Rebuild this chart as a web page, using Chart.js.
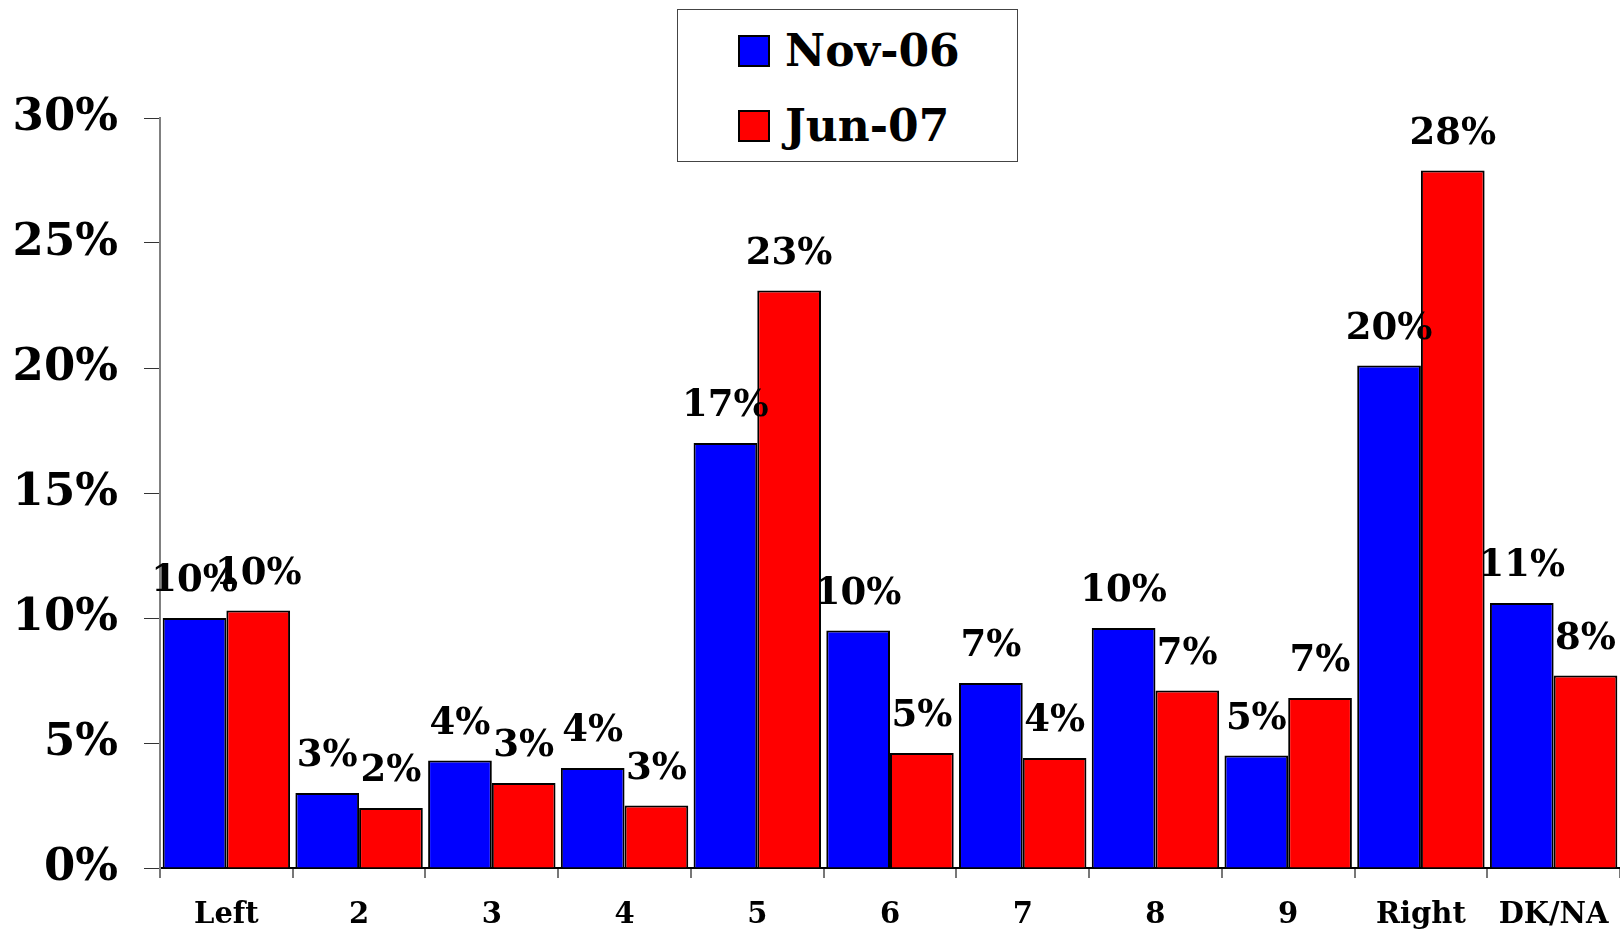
<!DOCTYPE html>
<html>
<head>
<meta charset="utf-8">
<script src="https://cdn.jsdelivr.net/npm/chart.js@4.4.1/dist/chart.umd.min.js"></script>
<style>
  html, body { margin: 0; padding: 0; background: #fff; overflow: hidden; }
  #wrap { position: relative; width: 1620px; height: 933px; }
  #legend { position: absolute; left: 677px; top: 9px; width: 339px; height: 151px;
    border: 1px solid #444; background: #fff; font-family: "DejaVu Serif", serif; font-weight: bold;
    font-size: 44px; color: #000; }
  .item { position: absolute; left: 60px; height: 44px; line-height: 44px; white-space: nowrap; }
  .sw { position: absolute; left: 0; top: 6px; width: 28px; height: 28px; border: 2px solid #000; }
  .lbl { position: absolute; left: 47px; top: 0px; }
</style>
</head>
<body>
<div id="wrap">
  <canvas id="c" width="1620" height="933"></canvas>
  <div id="legend"></div>
</div>
<script>
const categories = ["Left", "2", "3", "4", "5", "6", "7", "8", "9", "Right", "DK/NA"];
const seriesNames = ["Nov-06", "Jun-07"];
const nov06 = [10.0, 3.0, 4.3, 4.0, 17.0, 9.5, 7.4, 9.6, 4.5, 20.1, 10.6];
const jun07 = [10.3, 2.4, 3.4, 2.5, 23.1, 4.6, 4.4, 7.1, 6.8, 27.9, 7.7];
const seriesColors = ["#0000FF", "#FF0000"];
const yTicks = [0, 5, 10, 15, 20, 25, 30];

// HTML legend
const legendEl = document.getElementById('legend');
seriesNames.forEach((n, i) => {
  const it = document.createElement('div');
  it.className = 'item';
  it.style.top = (i === 0 ? 19 : 94) + 'px';
  it.innerHTML = '<div class="sw" style="background:' + seriesColors[i] + '"></div><div class="lbl">' + n + '</div>';
  legendEl.appendChild(it);
});

const labelPlugin = {
  id: 'barLabels',
  afterDatasetsDraw(chart) {
    const ctx = chart.ctx;
    ctx.save();
    ctx.font = 'bold 37px "DejaVu Serif"';
    ctx.fillStyle = '#000';
    ctx.textAlign = 'center';
    ctx.textBaseline = 'alphabetic';
    chart.data.datasets.forEach((ds, di) => {
      const meta = chart.getDatasetMeta(di);
      meta.data.forEach((bar, i) => {
        ctx.fillText(Math.round(ds.data[i]) + '%', bar.x, bar.y - 27);
      });
    });
    ctx.restore();
  }
};

new Chart(document.getElementById('c'), {
  type: 'bar',
  data: {
    labels: categories,
    datasets: [
      { label: seriesNames[0], data: nov06, backgroundColor: seriesColors[0], borderColor: '#000', borderWidth: 2 },
      { label: seriesNames[1], data: jun07, backgroundColor: seriesColors[1], borderColor: '#000', borderWidth: 2 }
    ]
  },
  options: {
    responsive: false,
    animation: false,
    events: [],
    layout: { padding: { top: 118, left: 0, right: 0, bottom: 0 } },
    datasets: { bar: { barPercentage: 1.0, categoryPercentage: 0.96 } },
    plugins: { legend: { display: false }, tooltip: { enabled: false } },
    scales: {
      x: {
        grid: { display: true, drawOnChartArea: false, drawTicks: true, tickLength: 10, color: '#777', offset: true, lineWidth: 2 },
        border: { display: true, color: '#000', width: 2 },
        ticks: { color: '#000', font: { family: 'DejaVu Serif', weight: 'bold', size: 29 }, padding: 20, maxRotation: 0, autoSkip: false },
        afterFit(s) { s.height = 65; s.paddingLeft = 0; s.paddingRight = 0; }
      },
      y: {
        min: 0, max: 30,
        afterBuildTicks(s) { s.ticks = yTicks.map(v => ({ value: v })); },
        grid: { display: true, drawOnChartArea: false, drawTicks: true, tickLength: 16, color: '#333' },
        border: { display: true, color: '#808080', width: 2 },
        ticks: { color: '#000', font: { family: 'DejaVu Serif', weight: 'bold', size: 45 }, padding: 26, callback: v => v + '%' },
        afterFit(s) { s.width = 160; s.paddingTop = 0; s.paddingBottom = 0; }
      }
    }
  },
  plugins: [labelPlugin]
});
</script>
</body>
</html>
